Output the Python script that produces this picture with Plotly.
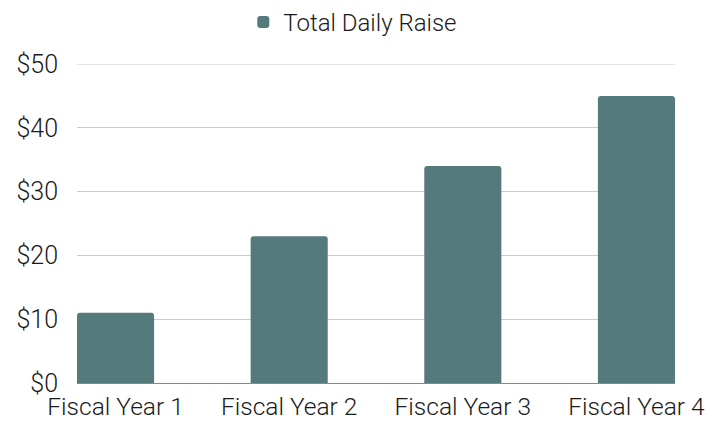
import plotly.graph_objects as go

categories = ["Fiscal Year 1", "Fiscal Year 2", "Fiscal Year 3", "Fiscal Year 4"]
total_daily_raise = [11, 23, 34, 45]
y_ticks = [0, 10, 20, 30, 40, 50]
y_tick_labels = ["$0", "$10", "$20", "$30", "$40", "$50"]

bar_color = "#557a7b"
grid_color = "#cccccc"
font_family = "Roboto, sans-serif"
text_color = "#1a1a1a"

fig = go.Figure(
    go.Bar(
        x=list(range(len(categories))),
        y=total_daily_raise,
        name="Total Daily Raise",
        marker=dict(color=bar_color, line=dict(width=0)),
        width=0.444,
        showlegend=True,
    )
)

# top gridline at the upper end of the value range
fig.add_shape(
    type="line", xref="paper", yref="y", x0=0, x1=1, y0=y_ticks[-1], y1=y_ticks[-1],
    line=dict(color=grid_color, width=1), layer="below",
)

fig.update_layout(
    width=720,
    height=421,
    margin=dict(l=77, r=45, t=64, b=38),
    paper_bgcolor="white",
    plot_bgcolor="white",
    barcornerradius=3,
    font=dict(family=font_family, size=24, color=text_color, weight=300),
    legend=dict(
        orientation="h",
        x=0.49,
        xref="container",
        xanchor="center",
        y=1.0,
        yanchor="top",
        yref="container",
        font=dict(size=24, color=text_color, weight=300),
        itemsizing="constant",
    ),
    xaxis=dict(
        tickmode="array",
        tickvals=list(range(len(categories))),
        ticktext=categories,
        range=[-0.222, 3.222],
        showgrid=False,
        showline=False,
        zeroline=False,
        ticks="",
        ticklabelstandoff=6,
        tickfont=dict(size=24.5, color=text_color, weight=300),
        automargin=False,
    ),
    yaxis=dict(
        range=[0, 50],
        tickmode="array",
        tickvals=y_ticks,
        ticktext=y_tick_labels,
        showgrid=True,
        gridcolor=grid_color,
        gridwidth=1,
        zeroline=True,
        zerolinecolor="#888888",
        zerolinewidth=1,
        ticks="",
        ticklabelstandoff=18,
        tickfont=dict(size=25, color=text_color, weight=300),
        automargin=False,
    ),
)

fig.write_html("out.html")
